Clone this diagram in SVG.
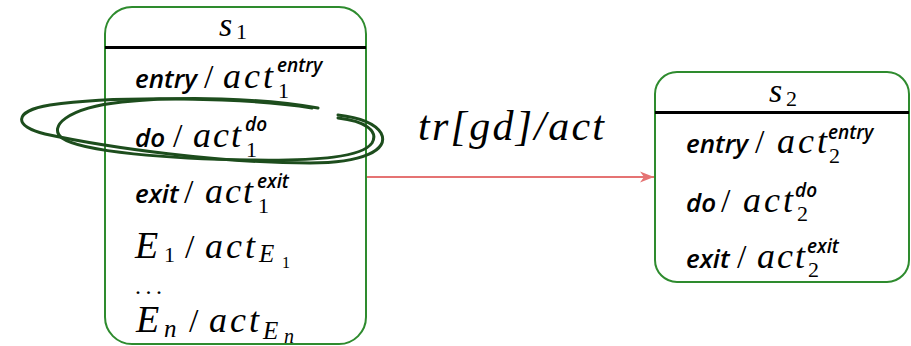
<svg xmlns="http://www.w3.org/2000/svg" width="911" height="346" viewBox="0 0 911 346">
<defs>
<style>
.box{fill:#fff;stroke:#2e8b2e;stroke-width:2}
.hdr{stroke:#000;stroke-width:3}
.m{font-style:italic;font-size:36px;fill:#000}
.r{font-size:34px;fill:#000}
.sub{font-size:22px;fill:#000}
.msub{font-style:italic;font-size:25px;fill:#000}
.ssub{font-size:16px;fill:#000}
.kw{font-family:'Open Sans',sans-serif;font-style:italic;font-weight:600;font-size:26px;fill:#000}
.kws{font-family:'Open Sans',sans-serif;font-style:italic;font-weight:600;font-size:19px;fill:#000}
.edge{stroke:#e57373;stroke-width:2;fill:none}
.scrib{fill:none;stroke:#1d4d1d;stroke-width:3;stroke-linecap:round;stroke-linejoin:round}
</style>
<marker id="ah" markerWidth="16" markerHeight="12" refX="14" refY="6" orient="auto" markerUnits="userSpaceOnUse">
<path d="M0,0.5 L14,6 L0,11.5 L4,6 Z" fill="#e57373"/>
</marker>
</defs>

<g id="connectors" font-family="Liberation Serif, Times New Roman, serif">
<line class="edge" x1="367" y1="177" x2="654" y2="177" marker-end="url(#ah)"/>
<text class="m" x="418" y="140" style="font-size:42px" textLength="186" lengthAdjust="spacing">tr[gd]/act</text>
</g>

<g id="s1" font-family="Liberation Serif, Times New Roman, serif">
<rect class="box" x="105" y="7" width="261" height="337" rx="27" ry="27"/>
<line class="hdr" x1="105" y1="47.5" x2="366" y2="47.5"/>
<text class="m" x="219" y="36" style="font-size:34px">s</text>
<text class="sub" x="236" y="39">1</text>

<text class="kw" x="135" y="88">entry</text>
<text class="r" x="204" y="88">/</text>
<text class="m" x="223" y="88" textLength="50" lengthAdjust="spacing">act</text>
<text class="kws" x="277" y="72">entry</text>
<text class="sub" x="278" y="98">1</text>

<text class="kw" x="135" y="147">do</text>
<text class="r" x="173" y="147">/</text>
<text class="m" x="193" y="147" textLength="48" lengthAdjust="spacing">act</text>
<text class="kws" x="245" y="131">do</text>
<text class="sub" x="246" y="157">1</text>

<text class="kw" x="135" y="203">exit</text>
<text class="r" x="184" y="203">/</text>
<text class="m" x="205" y="203" textLength="48" lengthAdjust="spacing">act</text>
<text class="kws" x="257" y="188">exit</text>
<text class="sub" x="258" y="213">1</text>

<text class="m" x="135" y="258" style="font-size:38px">E</text>
<text class="sub" x="164" y="262">1</text>
<text class="r" x="185" y="258">/</text>
<text class="m" x="205" y="258" textLength="50" lengthAdjust="spacing">act</text>
<text class="msub" x="259" y="262">E</text>
<text class="ssub" x="282" y="268">1</text>

<text class="r" x="135" y="294" style="font-size:24px" textLength="27" lengthAdjust="spacing">...</text>

<text class="m" x="136" y="332" style="font-size:38px">E</text>
<text class="msub" x="164" y="337">n</text>
<text class="r" x="189" y="332">/</text>
<text class="m" x="209" y="332" textLength="50" lengthAdjust="spacing">act</text>
<text class="msub" x="263" y="339">E</text>
<text class="msub" x="284" y="343" style="font-size:20px">n</text>
</g>

<g id="s2" font-family="Liberation Serif, Times New Roman, serif">
<rect class="box" x="655" y="72" width="254" height="210" rx="22" ry="22"/>
<line class="hdr" x1="655" y1="112.5" x2="909" y2="112.5"/>
<text class="m" x="769" y="102" style="font-size:34px">s</text>
<text class="sub" x="786" y="106">2</text>

<text class="kw" x="686" y="153">entry</text>
<text class="r" x="755" y="153">/</text>
<text class="m" x="777" y="153" textLength="50" lengthAdjust="spacing">act</text>
<text class="kws" x="828" y="139">entry</text>
<text class="sub" x="829" y="163">2</text>

<text class="kw" x="686" y="212">do</text>
<text class="r" x="721" y="212">/</text>
<text class="m" x="743" y="212" textLength="50" lengthAdjust="spacing">act</text>
<text class="kws" x="795" y="197">do</text>
<text class="sub" x="797" y="221">2</text>

<text class="kw" x="686" y="268">exit</text>
<text class="r" x="737" y="268">/</text>
<text class="m" x="757" y="268" textLength="48" lengthAdjust="spacing">act</text>
<text class="kws" x="807" y="253">exit</text>
<text class="sub" x="808" y="277">2</text>
</g>

<g id="scribble">
<path class="scrib" d="M312 108 C250 98,120 95,50 105 C12 111,14 127,45 134 C110 148,220 163,310 163 C362 163,390 150,381 133 C374 122,355 117,338 115"/>
<path class="scrib" d="M338 118 C365 121,379 131,372 143 C362 157,320 161,250 160 C170 159,82 152,62 138 C48 127,66 108,122 102 C182 96,262 98,318 108"/>
</g>
</svg>
